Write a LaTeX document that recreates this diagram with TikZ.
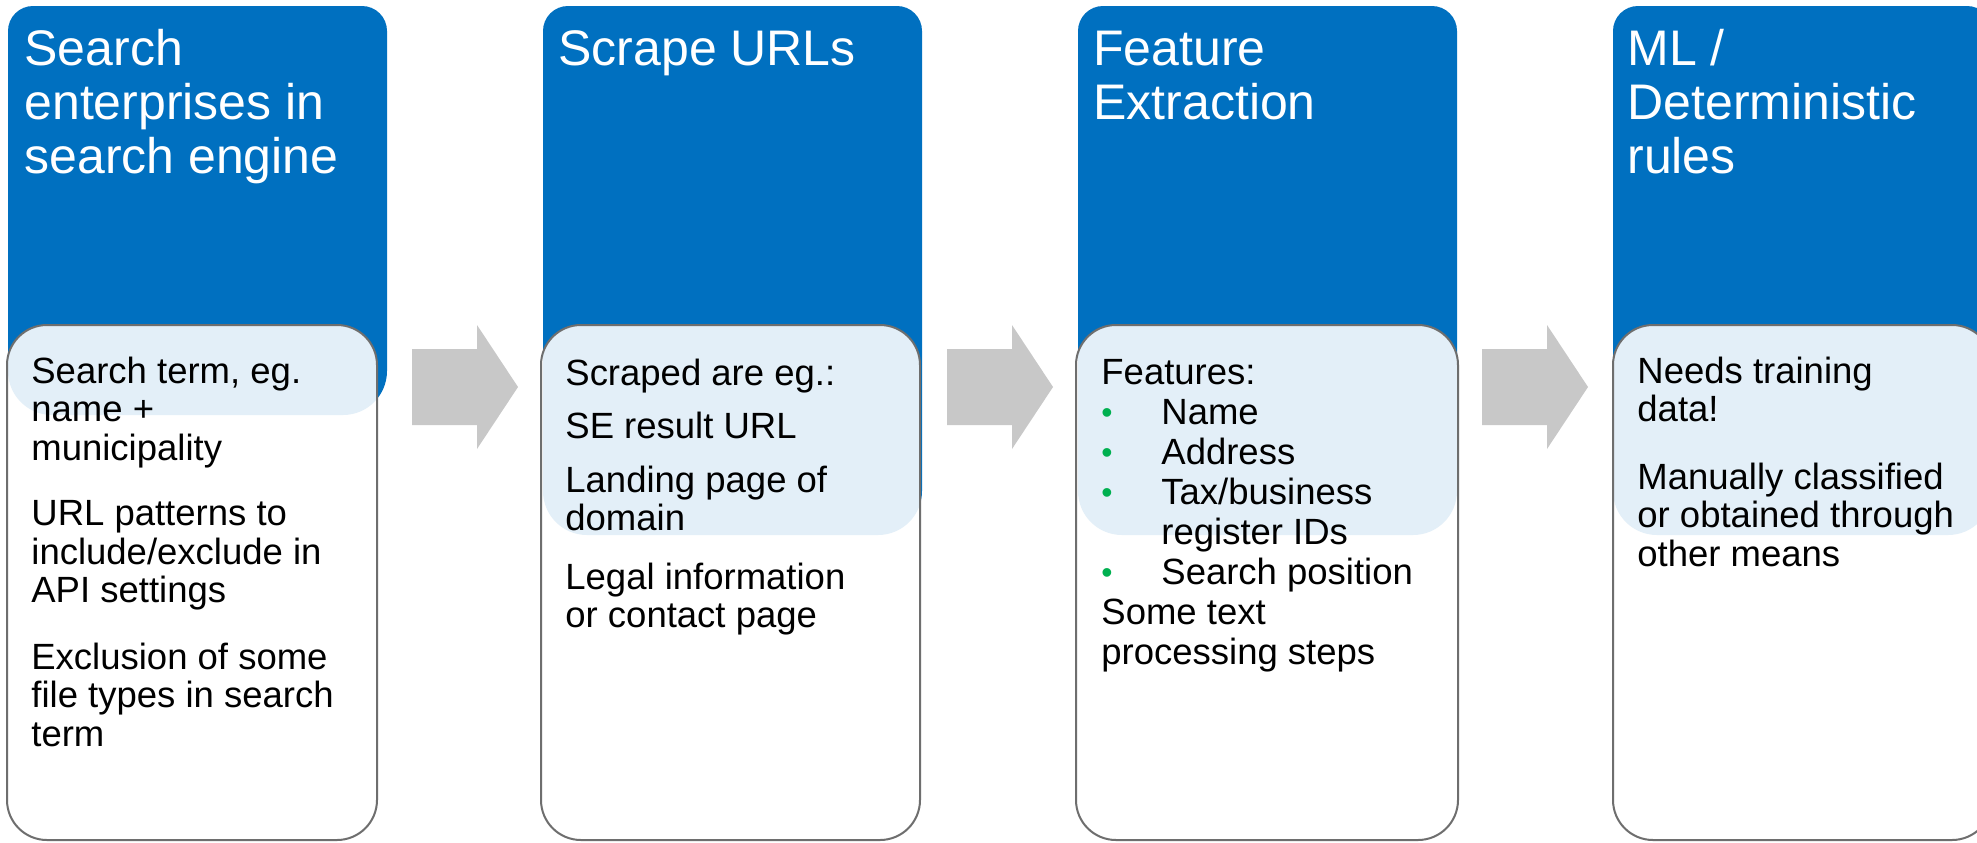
\documentclass[tikz,border=0pt]{standalone}
\usepackage{fontspec}
\setmainfont{Liberation Sans}
\definecolor{stageblue}{HTML}{0070C0}
\definecolor{arrowgray}{HTML}{C8C8C8}
\definecolor{edgegray}{HTML}{6E6E6E}
\definecolor{bulletgreen}{HTML}{00B050}

% header tab of a stage: #1 left, #2 right, #3 bottom
\newcommand\stagetab[3]{%
  \fill[stageblue] (#1,200) [rounded corners=12.5pt] -- (#1,6) -- (#2,6) -- (#2,200)
       [rounded corners=22pt] -- (#2,#3) -- (#1,#3) -- cycle;}
% white content panel: #1 left, #2 right
\newcommand\stagepanel[2]{%
  \path[panel] (#1,325) rectangle (#2,840);}
% grey block arrow starting at named coordinate #1
\newcommand\blockarrow[1]{%
  \fill[arrowgray] (#1) ++(0,-38) -- ++(65,0) -- ++(0,-24) -- ++(41,62)
       -- ++(-41,62) -- ++(0,-24) -- ++(-65,0) -- cycle;}
\newcommand\lead[1]{\rule{0pt}{#1}}
\newcommand\bul{\makebox[30pt][l]{\raisebox{0.3pt}{\textcolor{bulletgreen}{\fontsize{16}{16}\selectfont\textbullet}}}}

\begin{document}
\begin{tikzpicture}[x=0.5pt,y=-0.5pt,
  titletext/.style={anchor=north west, inner sep=0pt, align=left, text=white,
                    font=\fontsize{25}{27}\selectfont},
  bodytext/.style={anchor=north west, inner sep=0pt, align=left, text=black,
                   font=\fontsize{18.25}{19.25}\selectfont},
  panel/.style={fill=white, fill opacity=0.89, draw=edgegray, line width=1pt,
                rounded corners=20pt}]
\clip (0,0) rectangle (1977,842);
\fill[white] (0,0) rectangle (1977,842);

% header tabs
\stagetab{8}{387}{415}
\stagetab{543}{922}{535}
\stagetab{1078}{1457}{535}
\stagetab{1613}{1992}{535}

% content panels
\stagepanel{7}{377}
\stagepanel{541}{920}
\stagepanel{1076}{1458}
\stagepanel{1613}{1992}

% arrows between stages
\coordinate (a1) at (412,387);
\coordinate (a2) at (947,387);
\coordinate (a3) at (1482,387);
\blockarrow{a1}
\blockarrow{a2}
\blockarrow{a3}

% stage titles
\node[titletext] (t1) at (24,27) {\lead{19pt}Search\\enterprises in\\search engine};
\node[titletext] (t2) at (558,27) {\lead{19pt}Scrape URLs};
\node[titletext] (t3) at (1093,27) {\lead{19pt}Feature\\Extraction};
\node[titletext] (t4) at (1627,27) {\lead{19pt}ML /\\Deterministic\\rules};

% stage contents
\node[bodytext] (b1) at (31,355) {\lead{14pt}Search term, eg.\\name +\\municipality\\[13.5pt]
  URL patterns to\\include/exclude in\\API settings\\[14pt]
  Exclusion of some\\file types in search\\term};
\node[bodytext] (b2) at (565,357) {\lead{14pt}Scraped are eg.:\\[7.5pt]
  SE result URL\\[7.5pt]
  Landing page of\\domain\\[10pt]
  Legal information\\or contact page};
\node[bodytext, font=\fontsize{18.25}{20}\selectfont] (b3) at (1101,356) {\lead{14pt}Features:\\
  \bul Name\\
  \bul Address\\
  \bul Tax/business\\
  \hspace*{30pt}register IDs\\
  \bul Search position\\
  Some text\\
  processing steps};
\node[bodytext] (b4) at (1637,355) {\lead{14pt}Needs training\\data!\\[14.5pt]
  Manually classified\\or obtained through\\other means};
\end{tikzpicture}
\end{document}
